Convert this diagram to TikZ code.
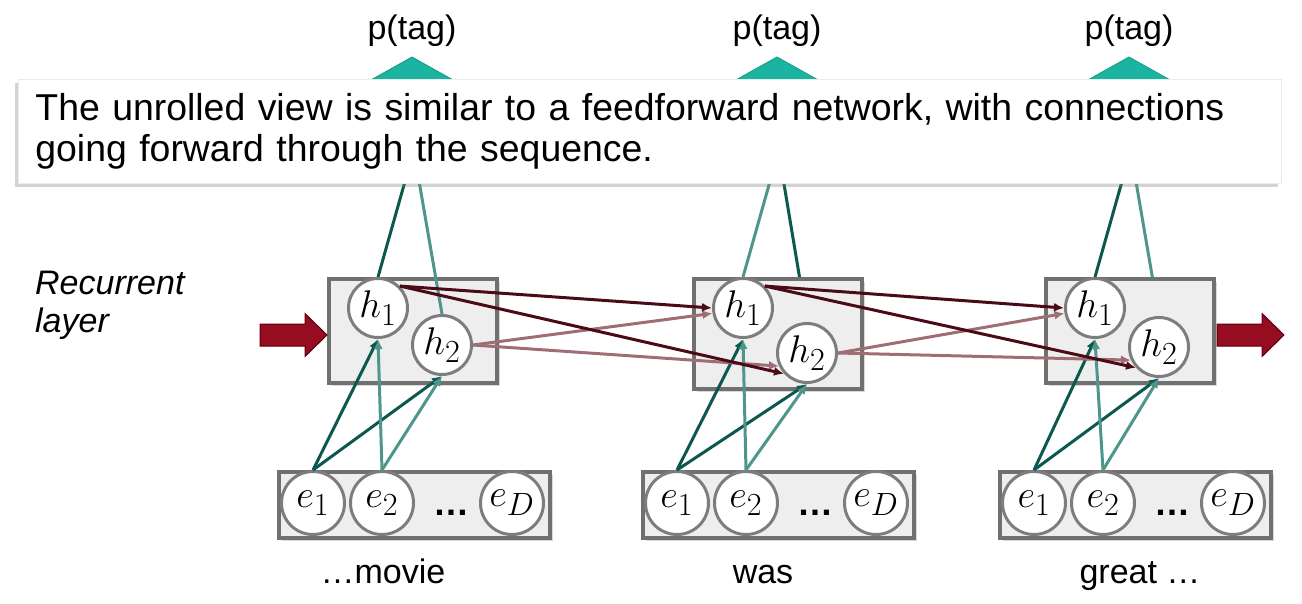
\documentclass[tikz,border=0pt]{standalone}
\usepackage{graphicx}
\usepackage{fontspec}
\setmainfont{Liberation Sans}
\usepackage{tikz}
\usetikzlibrary{arrows.meta, calc, backgrounds, shadows, positioning}

\definecolor{tealdark}{RGB}{12,88,78}
\definecolor{teallight}{RGB}{78,150,140}
\definecolor{maroondark}{RGB}{74,10,22}
\definecolor{maroonlight}{RGB}{158,110,116}
\definecolor{blockred}{RGB}{150,12,32}
\definecolor{blockedge}{RGB}{90,0,16}
\definecolor{tagteal}{RGB}{26,180,160}
\definecolor{boxfill}{RGB}{238,238,238}
\definecolor{boxgray}{RGB}{112,112,112}
\definecolor{unitgray}{RGB}{125,125,125}

\newcommand{\unitlab}[1]{\scalebox{1.55}{\Huge$#1$}}

\tikzset{
  layerbox/.style={draw=boxgray, fill=boxfill, line width=4pt, minimum width=168pt,
    anchor=north west, drop shadow={shadow xshift=3pt, shadow yshift=-3pt, opacity=0.3}},
  embbox/.style={draw=boxgray, fill=boxfill, line width=4pt, minimum width=271pt,
    minimum height=66pt, anchor=north west,
    drop shadow={shadow xshift=3pt, shadow yshift=-3pt, opacity=0.3}},
  unit/.style={circle, draw=unitgray, fill=white, line width=3pt, inner sep=0pt},
  hunit/.style={unit, minimum size=59pt},
  eunit/.style={unit, minimum size=63pt},
  outline/.style={line width=3pt},
  inarrow/.style={line width=3pt, -{Latex[length=10pt,width=9pt]}},
  recarrow/.style={line width=3pt, -{Latex[length=10pt,width=9pt]}},
  redblock/.style={fill=blockred, draw=blockedge, line width=1pt},
  tagtri/.style={fill=tagteal, draw=tagteal!85!black, line width=0.8pt},
  textpanel/.style={anchor=north west, fill=white, draw=black!8, line width=0.8pt,
    text width=1229pt, inner xsep=17pt, inner ysep=14pt, align=left,
    font=\fontsize{37.4}{41}\selectfont,
    drop shadow={shadow xshift=-3pt, shadow yshift=-4pt, opacity=0.35}},
  labelfont/.style={font=\fontsize{34}{37}\selectfont}
}

\begin{document}
\begin{tikzpicture}[x=1pt, y=-1pt, every node/.style={inner sep=0pt}]
    \useasboundingbox (0,0) rectangle (1302,604);

    % Columns: recurrent layer, embedding, word and output
    \foreach \c/\x/\hy/\bh/\ex/\wx/\word/\oa/\ob in {
        1/327/345/104/277/383/{…movie}/tealdark/teallight,
        2/692/353/110/641/763/{was}/teallight/tealdark,
        3/1044/347/104/998/1140/{great …}/tealdark/teallight} {
        % output triangle and label
        \fill[tagtri] (\x+85,57) -- (\x+8,100) -- (\x+162,100) -- cycle;
        \node[labelfont, anchor=base] (p-\c) at (\x+85,40) {p(tag)};
        \coordinate (t1-\c) at (\x+101,100);
        \coordinate (t2-\c) at (\x+78,100);

        % recurrent box with hidden units
        \node[layerbox, minimum height=\bh pt] (b-\c) at (\x,277) {};
        \node[hunit] (h1-\c) at (\x+51,308) {\unitlab{h_1}};
        \node[hunit] (h2-\c) at (\x+115,\hy) {\unitlab{h_2}};

        % embedding box
        \node[embbox] (eb-\c) at (\ex,470) {};
        \node[eunit] (e1-\c) at (\ex+36,503) {\unitlab{e_1}};
        \node[eunit] (e2-\c) at (\ex+105,503) {\unitlab{e_2}};
        \node[font=\bfseries\fontsize{36}{36}\selectfont, anchor=base] (dots-\c) at (\ex+174,515) {…};
        \node[eunit] (eD-\c) at (\ex+235,503) {\unitlab{e_D}};

        % word
        \node[labelfont, anchor=base] (w-\c) at (\wx,583) {\word};

        % output lines
        \draw[outline, \oa] (h1-\c.north) -- (t1-\c);
        \ifnum\c=1
            \draw[outline, \ob] (h2-\c.north) -- (t2-\c);
        \else
            \begin{pgfonlayer}{background}
                \draw[outline, \ob] (h2-\c.north) -- (t2-\c);
            \end{pgfonlayer}
        \fi

        % input arrows
        \draw[inarrow, tealdark] (e1-\c.north) -- (h1-\c.south);
        \draw[inarrow, tealdark] (e1-\c.north) -- (h2-\c.south);
        \draw[inarrow, teallight] (e2-\c.north) -- (h1-\c.south);
        \draw[inarrow, teallight] (e2-\c.north) -- (h2-\c.south);
    }

    % Recurrent connections
    \foreach \c/\n in {1/2, 2/3} {
        \draw[recarrow, maroonlight] (h2-\c.east) -- (h1-\n.190);
        \draw[recarrow, maroonlight] (h2-\c.east) -- (h2-\n.205);
        \draw[recarrow, maroondark] (h1-\c.45) -- (h1-\n.west);
        \draw[recarrow, maroondark] (h1-\c.45) -- (h2-\n.222);
    }

    % Block arrows in and out
    \foreach \ax in {260,1217} {
        \filldraw[redblock, shift={(\ax,335)}] (0,-11) -- (45,-11) -- (45,-21.5) -- (67,0)
            -- (45,21.5) -- (45,11) -- (0,11) -- cycle;
    }

    % Labels
    \node[anchor=north west, align=left, font=\itshape\fontsize{34}{38}\selectfont] (rlab) at (35,271) {Recurrent\\layer};

    \node[textpanel] (note) at (18,79) {The unrolled view is similar to a feedforward network, with connections\\going forward through the sequence.};
\end{tikzpicture}
\end{document}
